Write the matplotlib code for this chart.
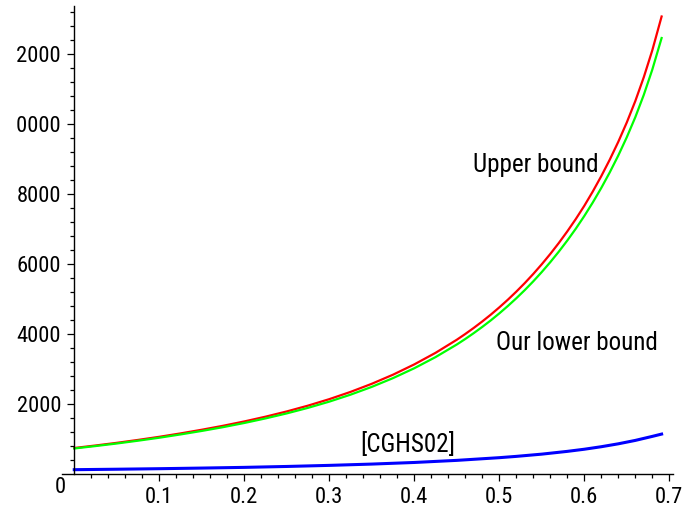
import matplotlib
matplotlib.use("Agg")
import matplotlib.pyplot as plt
from matplotlib import font_manager
from matplotlib.font_manager import FontProperties
from matplotlib.ticker import FixedLocator, NullFormatter
from matplotlib.transforms import Bbox, TransformedBbox

# Upper bound curve
upper_x = [0.0, 0.025, 0.05, 0.075, 0.10, 0.125, 0.15, 0.175, 0.20, 0.225,
           0.25, 0.275, 0.30, 0.325, 0.35, 0.375, 0.40, 0.425, 0.45, 0.46,
           0.47, 0.48, 0.49, 0.50, 0.51, 0.52, 0.53, 0.54, 0.55, 0.56, 0.57,
           0.58, 0.59, 0.60, 0.61, 0.62, 0.63, 0.64, 0.65, 0.66, 0.67, 0.68,
           0.691]
upper_y = [752, 823, 899, 982, 1071, 1168, 1273, 1386, 1510, 1646,
           1796, 1962, 2147, 2354, 2586, 2846, 3140, 3470, 3844, 4009,
           4183, 4367, 4561, 4768, 4986, 5218, 5463, 5724, 6001, 6295, 6607,
           6939, 7292, 7669, 8079, 8518, 8990, 9498, 10051, 10661, 11343, 12111,
           13080]

# Our lower bound curve
lower_x = [0.0, 0.025, 0.05, 0.075, 0.10, 0.125, 0.15, 0.175, 0.20, 0.225,
           0.25, 0.275, 0.30, 0.325, 0.35, 0.375, 0.40, 0.425, 0.45, 0.46,
           0.47, 0.48, 0.49, 0.50, 0.51, 0.52, 0.53, 0.54, 0.55, 0.56, 0.57,
           0.58, 0.59, 0.60, 0.61, 0.62, 0.63, 0.64, 0.65, 0.66, 0.67, 0.68,
           0.691]
lower_y = [738, 807, 880, 960, 1045, 1139, 1239, 1347, 1466, 1597,
           1740, 1899, 2076, 2275, 2498, 2748, 3030, 3348, 3708, 3866,
           4034, 4211, 4397, 4596, 4806, 5028, 5263, 5513, 5779, 6061, 6360,
           6678, 7016, 7378, 7766, 8181, 8627, 9107, 9629, 10200, 10839, 11559,
           12465]

# [CGHS02] curve
cghs_x = [0.0, 0.05, 0.10, 0.15, 0.20, 0.25, 0.30, 0.35, 0.40, 0.45, 0.50,
          0.52, 0.55, 0.58, 0.60, 0.62, 0.64, 0.66, 0.68, 0.691]
cghs_y = [132, 145, 160, 178, 198, 224, 255, 292, 338, 398, 475,
          512, 576, 655, 716, 788, 871, 968, 1083, 1149]

x_major = [0.1, 0.2, 0.3, 0.4, 0.5, 0.6, 0.7]
x_labels = ["0.1", "0.2", "0.3", "0.4", "0.5", "0.6", "0.7"]
y_major = [2000, 4000, 6000, 8000, 10000, 12000]
y_labels = ["2000", "4000", "6000", "8000", "10000", "12000"]


def condensed_sans():
    """Path of an upright, regular-weight narrow sans face, if one is installed."""
    prefs = ["liberation sans narrow", "roboto condensed", "noto sans",
             "open sans", "dejavu sans", "roboto"]
    best, best_rank = None, None
    for f in font_manager.fontManager.ttflist:
        name = f.name.lower()
        stretch = str(f.stretch).lower()
        narrow = ("narrow" in name or "condensed" in name or " cond" in name
                  or stretch in ("condensed", "semi-condensed"))
        if not narrow or f.style != "normal":
            continue
        try:
            weight = int(f.weight)
        except (TypeError, ValueError):
            weight = 400 if str(f.weight) in ("normal", "regular", "book") else 700
        if weight != 400 or "mono" in name or "serif" in name:
            continue
        fn = f.fname.lower()
        if "semicondensed" in fn or "extracondensed" in fn or "semi" in stretch:
            continue
        rank = next((i for i, p in enumerate(prefs) if name.startswith(p)),
                    len(prefs))
        if best is None or rank < best_rank:
            best, best_rank = f.fname, rank
    return best


path = condensed_sans()
if path:
    base = dict(fname=path)
else:
    base = dict(family=["Liberation Sans", "DejaVu Sans"])

W, H = 687, 516
fig = plt.figure(figsize=(W / 100, H / 100), dpi=100)
renderer = fig.canvas.get_renderer()


def fitted_size(sample, target_w, target_cap, cap=1.0):
    t = fig.text(0, 0, sample, fontproperties=FontProperties(size=20, **base))
    w = t.get_window_extent(renderer).width
    t.remove()
    s_w = 20 * target_w / w
    s_h = target_cap / (0.716 * 100 / 72)
    return min(0.6 * s_w + 0.4 * s_h, cap * s_w)


label_size = fitted_size("Upper bound", 125, 20, cap=1.0)
tick_size = fitted_size("8000", 42, 19, cap=1.06)
fp_label = FontProperties(size=label_size, **base)
fp_tick = FontProperties(size=tick_size, **base)

ax = fig.add_axes([61.7 / W, (H - 474.3) / H, (673 - 61.7) / W, 468.3 / H])
ax.set_xlim(-0.0148, 0.7044)
ax.set_ylim(0, 13380)

ax.plot(cghs_x, cghs_y, color="#0000ff", lw=2.2, solid_joinstyle="round")
ax.plot(upper_x, upper_y, color="#ff0000", lw=1.6, solid_joinstyle="round")
ax.plot(lower_x, lower_y, color="#00ff00", lw=1.6, solid_joinstyle="round")

for s in ("top", "right"):
    ax.spines[s].set_visible(False)
ax.spines["left"].set_position(("data", 0))
for s in ("left", "bottom"):
    ax.spines[s].set_linewidth(1.0)
    ax.spines[s].set_color("black")

ax.xaxis.set_major_locator(FixedLocator(x_major))
ax.set_xticklabels(x_labels, fontproperties=fp_tick)
ax.xaxis.set_minor_locator(FixedLocator([i * 0.02 for i in range(1, 36)]))
ax.yaxis.set_major_locator(FixedLocator(y_major))
ax.set_yticklabels(y_labels, fontproperties=fp_tick)
ax.yaxis.set_minor_locator(FixedLocator([i * 400 for i in range(1, 34)]))
ax.xaxis.set_minor_formatter(NullFormatter())
ax.yaxis.set_minor_formatter(NullFormatter())

ax.tick_params(which="major", direction="out", length=5, width=0.9,
               color="black")
ax.tick_params(which="minor", direction="out", length=2.6, width=0.9,
               color="black")
ax.tick_params(axis="x", which="major", pad=4)
ax.tick_params(axis="y", which="major", pad=4.5)

# Origin label
ax.text(-0.0167, -380, "0", fontproperties=fp_tick, ha="center",
        va="center", clip_on=False)

ax.text(0.4694, 8646, "Upper bound", fontproperties=fp_label, va="baseline")
ax.text(0.4961, 3551, "Our lower bound", fontproperties=fp_label,
        va="baseline")
ax.text(0.336, 623, "[CGHS02]", fontproperties=fp_label, va="baseline")

# Trim the outer tick labels at the page margins
fig.canvas.draw()
probe = fig.text(0, 0, "2000", fontproperties=fp_tick)
probe_w = probe.get_window_extent(renderer).width
probe.remove()
label_right = max(t.get_window_extent(renderer).x1
                  for t in ax.get_yticklabels())
left_px = label_right - probe_w - 0.5
clip = TransformedBbox(Bbox.from_extents(left_px / W, 13 / H, 1, 1),
                       fig.transFigure)
for t in ax.get_yticklabels() + ax.get_xticklabels():
    t.set_clip_box(clip)
    t.set_clip_on(True)

fig.savefig("out.png", dpi=100, facecolor="white")
